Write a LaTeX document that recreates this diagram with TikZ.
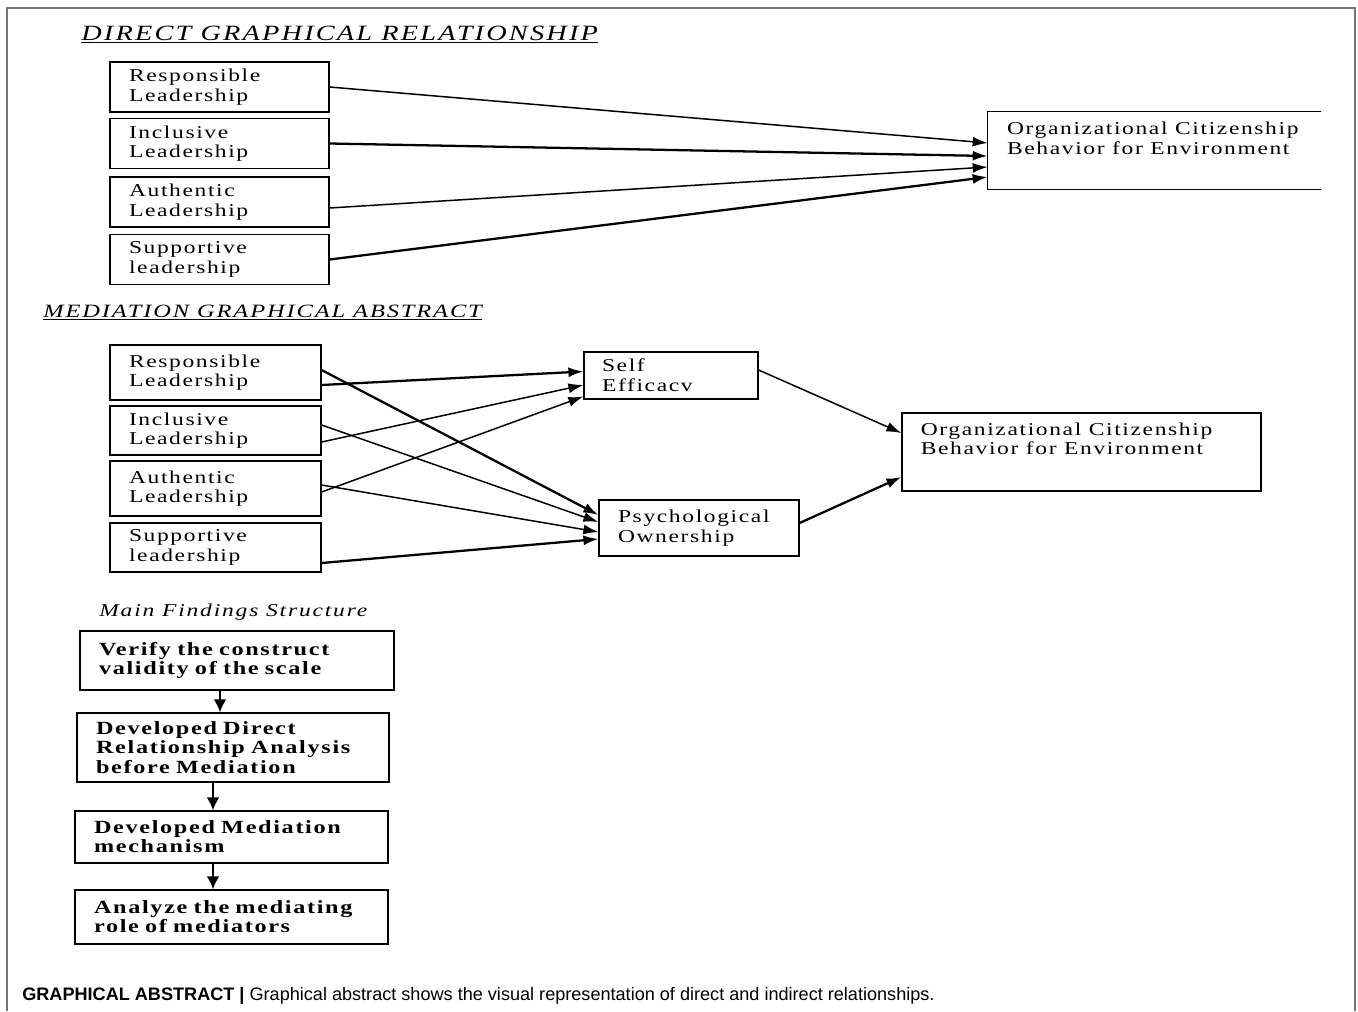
\documentclass[tikz,border=0pt]{standalone}
\usepackage{fontspec}
\setmainfont{Liberation Serif}
\newfontfamily\boxfont[FakeStretch=1.3, LetterSpace=9]{Liberation Serif}
\newfontfamily\headfont[FakeStretch=1.3, LetterSpace=10]{Liberation Serif}
\newfontfamily\capfont{Liberation Sans}
\usetikzlibrary{arrows.meta}
\definecolor{framegray}{HTML}{767676}

\begin{document}
\begin{tikzpicture}[x=0.02cm, y=-0.02cm,
    lead/.style={draw, line width=0.7pt, align=left, inner xsep=0.38cm, inner ysep=0pt,
      font=\boxfont\fontsize{10.3}{11.2}\selectfont},
    dbox/.style={lead, minimum width=4.38cm, minimum height=1cm, text width=3.62cm},
    mbox/.style={lead, minimum width=4.22cm, text width=3.46cm},
    fbox/.style={lead, font=\boxfont\bfseries\fontsize{10.6}{10.9}\selectfont},
    lbl/.style={anchor=north west, align=left, inner sep=0pt, xshift=0.38cm, yshift=-0.2cm,
      font=\boxfont\fontsize{10.3}{11.2}\selectfont},
    arr/.style={-{Latex[length=0.3cm, width=0.2cm]}, line width=0.85pt},
    thk/.style={arr, line width=1.3pt},
    down/.style={-{Latex[length=0.26cm, width=0.26cm]}, line width=1.5pt},
    title/.style={anchor=base west, inner sep=0pt, font=\headfont\itshape}]
  \useasboundingbox (0,0) rectangle (1358,1011);
  \draw[framegray, line width=0.9pt] (7,1011) -- (7,8) -- (1355,8) -- (1355,1011);

  % direct part
  \node[title, font=\headfont\itshape\fontsize{12.4}{14}\selectfont] (t1) at (81,40) {DIRECT GRAPHICAL RELATIONSHIP};
  \draw[line width=0.6pt] ([yshift=-0.05cm]t1.base west) -- ([yshift=-0.05cm]t1.base east);

  \foreach \i/\y/\t in {1/87/{Responsible\\Leadership}, 2/143.5/{Inclusive\\Leadership},
                        3/202/{Authentic\\Leadership}, 4/259.5/{Supportive\\leadership}}{
    \node[dbox] (d\i) at (219.5,\y) {\t};
  }

  \node[minimum width=6.66cm, minimum height=1.54cm, inner sep=0pt,
    label={[lbl]north west:{Organizational Citizenship\\Behavior for Environment}}] (o1) at (1154.5,150.5) {};
  \draw[line width=0.7pt] (o1.north east) -- (o1.north west) -- (o1.south west) -- (o1.south east);

  \draw[arr] (d1.east) -- ([yshift=0.15cm]o1.west);
  \draw[thk] (d2.east) -- ([yshift=-0.11cm]o1.west);
  \draw[arr] ([yshift=-0.12cm]d3.east) -- ([yshift=-0.33cm]o1.west);
  \draw[thk] (d4.east) -- ([yshift=-0.53cm]o1.west);

  % mediation part
  \node[title, font=\headfont\itshape\fontsize{10.7}{12}\selectfont] (t2) at (43,317) {MEDIATION GRAPHICAL ABSTRACT};
  \draw[line width=0.6pt] ([yshift=-0.05cm]t2.base west) -- ([yshift=-0.05cm]t2.base east);

  \foreach \i/\y/\h/\t in {1/372.5/1.1/{Responsible\\Leadership}, 2/430.5/0.98/{Inclusive\\Leadership},
                           3/488.5/1.1/{Authentic\\Leadership}, 4/547.5/0.98/{Supportive\\leadership}}{
    \node[mbox, minimum height=\h cm] (m\i) at (215.5,\y) {\t};
  }

  \node[lead, minimum width=3.48cm, text width=2.76cm, inner xsep=0.36cm, minimum height=0.94cm] (se) at (671,375.5) {Self\\Efficacv};
  \node[lead, minimum width=4cm, text width=3.24cm, minimum height=1.12cm] (po) at (699,528) {Psychological\\Ownership};
  \node[draw, line width=0.7pt, minimum width=7.18cm, minimum height=1.56cm, inner sep=0pt,
    label={[lbl]north west:{Organizational Citizenship\\Behavior for Environment}}] (o2) at (1081.5,452) {};

  \draw[thk] ([yshift=-0.25cm]m1.east) -- ([yshift=0.08cm]se.west);
  \draw[thk] ([yshift=0.05cm]m1.east) -- ([yshift=0.26cm]po.west);
  \draw[arr] ([yshift=-0.23cm]m2.east) -- ([yshift=-0.19cm]se.west);
  \draw[arr] ([yshift=0.11cm]m2.east) -- ([yshift=0.12cm]po.west);
  \draw[arr] ([yshift=-0.07cm]m3.east) -- ([yshift=-0.42cm]se.west);
  \draw[arr] ([yshift=0.07cm]m3.east) -- ([yshift=-0.08cm]po.west);
  \draw[thk] ([yshift=-0.31cm]m4.east) -- ([yshift=-0.22cm]po.west);
  \draw[arr] ([yshift=0.11cm]se.east) -- ([yshift=0.38cm]o2.west);
  \draw[thk] ([yshift=0.1cm]po.east) -- ([yshift=-0.5cm]o2.west);

  % findings
  \node[title, font=\headfont\itshape\fontsize{10.3}{12}\selectfont] (t3) at (99,616) {Main Findings Structure};

  \node[fbox, minimum width=6.28cm, text width=5.52cm, minimum height=1.18cm] (f1) at (237,660.5) {Verify the construct\\validity of the scale};
  \node[fbox, minimum width=6.24cm, text width=5.48cm, minimum height=1.38cm] (f2) at (233,747.5) {Developed Direct\\Relationship Analysis\\before Mediation};
  \node[fbox, minimum width=6.26cm, text width=5.5cm, minimum height=1.04cm] (f3) at (231.5,837) {Developed Mediation\\mechanism};
  \node[fbox, minimum width=6.26cm, text width=5.5cm, minimum height=1.08cm] (f4) at (231.5,917) {Analyze the mediating\\role of mediators};

  \draw[down] ([xshift=-0.34cm]f1.south) -- ([xshift=-0.34cm]f1.south |- f2.north);
  \draw[down] ([xshift=-0.4cm]f2.south) -- ([xshift=-0.4cm]f2.south |- f3.north);
  \draw[down] ([xshift=-0.37cm]f3.south) -- ([xshift=-0.37cm]f3.south |- f4.north);

  \node[anchor=base west, inner sep=0pt, font=\capfont\fontsize{10.3}{12}\selectfont] (cap) at (22,1000)
    {\textbf{GRAPHICAL ABSTRACT |} Graphical abstract shows the visual representation of direct and indirect relationships.};
\end{tikzpicture}
\end{document}
